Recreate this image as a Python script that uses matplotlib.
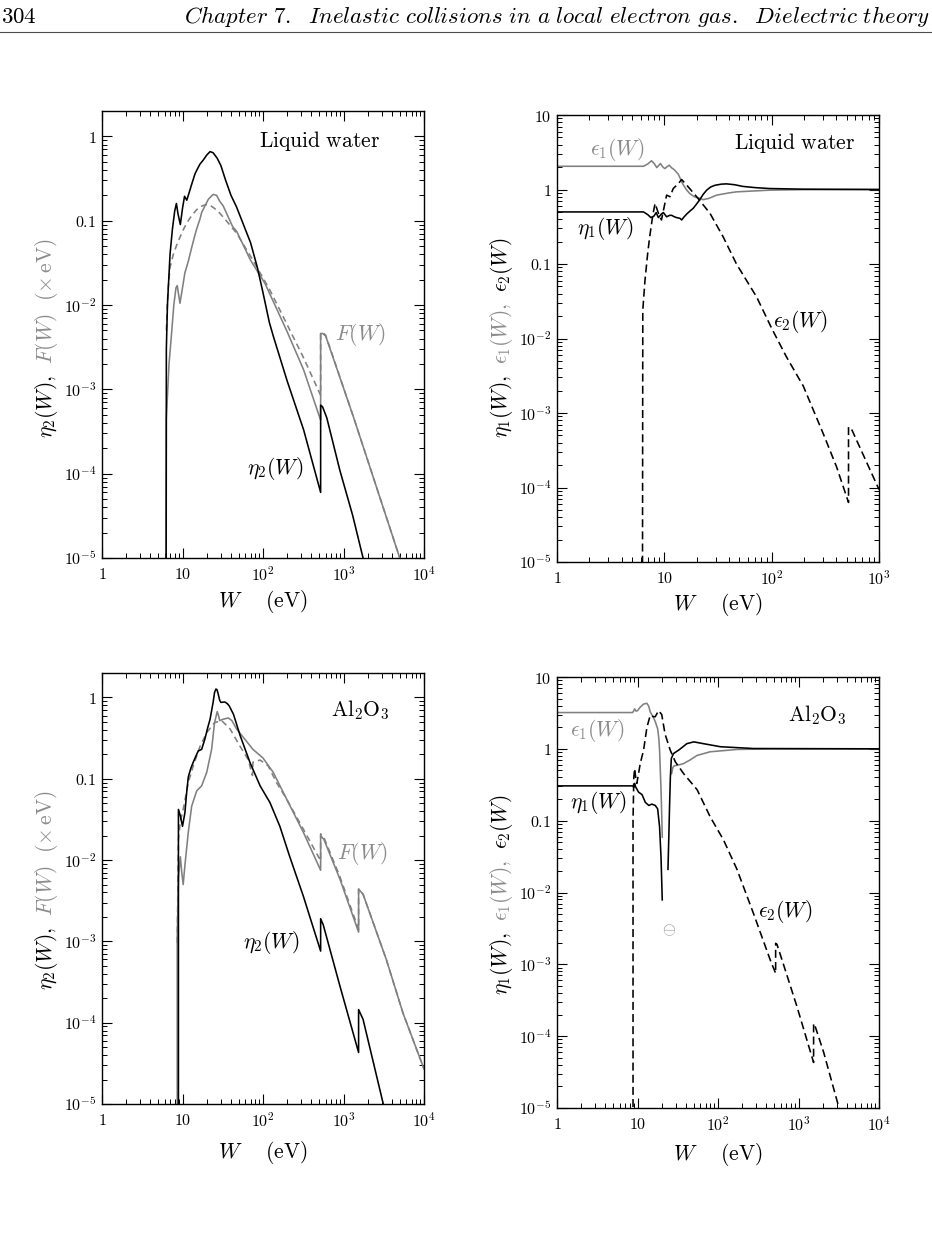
import numpy as np
import matplotlib
matplotlib.use('Agg')
import matplotlib.pyplot as plt
from matplotlib.ticker import FixedLocator, FixedFormatter, LogLocator, NullFormatter
from matplotlib.transforms import IdentityTransform
from matplotlib.lines import Line2D

plt.rcParams['mathtext.fontset'] = 'cm'
plt.rcParams['font.family'] = 'DejaVu Serif'

nan = np.nan

# ---------------- liquid water: eta2 and F (left top) ----------------
w_eta2_water = [6.25, 6.3, 6.5, 7.0, 7.5, 8.0, 8.4, 8.8, 9.4, 10.0, 10.6, 11.3, 12.0, 13.0, 14.3,
                15.5, 16.5, 18.0, 20.0, 22.0, 24.0, 27.0, 30.0, 34.0, 40.0, 47.0, 60.0, 70.0, 85.0,
                100.0, 120.0, 135.0, 200.0, 320.0, 520.0, 520.0, 550.0, 620.0, 900.0, 1300.0, 1750.0,
                2000.0]
eta2_water = [1e-6, 3e-3, 0.01, 0.04, 0.08, 0.13, 0.16, 0.12, 0.09, 0.14, 0.195, 0.175, 0.21, 0.27, 0.36,
              0.42, 0.47, 0.52, 0.6, 0.66, 0.64, 0.55, 0.45, 0.31, 0.2, 0.145, 0.08, 0.055, 0.028,
              0.014, 0.0062, 0.0042, 0.00125, 3.3e-4, 6.0e-5, 6.5e-4, 6.2e-4, 4.6e-4, 1.1e-4, 3.2e-5,
              1e-5, 6e-6]

w_f_water = [6.25, 6.3, 6.8, 7.3, 7.8, 8.3, 8.6, 9.3, 10.0, 10.7, 11.8, 13.0, 14.3, 15.0, 16.5, 17.3,
             19.0, 21.0, 24.0, 26.5, 29.0, 32.0, 42.0, 47.0, 70.0, 106.0, 200.0, 320.0, 520.0, 520.0,
             550.0, 600.0, 1320.0, 5000.0, 6000.0]
f_water = [1e-6, 4.5e-4, 2e-3, 4.5e-3, 0.01, 0.016, 0.017, 0.0105, 0.016, 0.024, 0.033, 0.048, 0.068,
           0.08, 0.105, 0.125, 0.15, 0.18, 0.205, 0.2, 0.17, 0.15, 0.085, 0.075, 0.034, 0.018, 0.0048,
           0.0017, 4.3e-4, 4.6e-3, 4.6e-3, 4.3e-3, 4.8e-4, 1e-5, 6e-6]

w_fd_water = [6.3, 6.6, 7.0, 7.7, 8.5, 10.0, 11.3, 13.0, 15.0, 17.0, 19.5, 22.0, 25.0, 29.0, 35.0, 47.0,
              75.0, 122.0, 197.0, 317.0, 520.0, 520.0, 550.0, 600.0, 1320.0, 5000.0, 6000.0]
fd_water = [0.005, 0.015, 0.028, 0.04, 0.052, 0.075, 0.094, 0.115, 0.135, 0.148, 0.155, 0.152, 0.14,
            0.123, 0.1, 0.071, 0.034, 0.015, 0.006, 0.0024, 8.5e-4, 4.7e-3, 4.7e-3, 4.4e-3, 4.8e-4,
            1e-5, 6e-6]

# ---------------- liquid water: eta1, eps1, eps2 (right top) ----------------
w_eps1_water = [1, 6.4, 7.0, 7.6, 8.1, 8.5, 9.2, 9.7, 10.1, 11.1, 11.7, 12.3, 13.5, 14.8, 16.0, 17.3,
                19.0, 21.5, 23.0, 26.0, 30.7, 40.0, 47.0, 96.0, 200.0, 1000.0]
eps1_water = [2.05, 2.05, 2.2, 2.43, 2.2, 1.97, 2.23, 2.0, 1.91, 2.12, 1.95, 1.86, 1.6, 1.2, 1.0, 0.88,
              0.8, 0.76, 0.73, 0.76, 0.84, 0.9, 0.93, 0.98, 0.995, 1.0]

w_eta1_water = [1, 6.4, 7.0, 7.5, 8.0, 8.4, 8.8, 9.4, 9.8, 10.5, 11.2, 11.7, 12.4, 13.0, 14.0, 14.5,
                15.3, 16.2, 17.5, 18.6, 20.0, 21.5, 23.0, 24.8, 27.0, 29.7, 34.0, 38.0, 45.0, 54.0,
                70.0, 96.0, 200.0, 1000.0]
eta1_water = [0.5, 0.5, 0.46, 0.42, 0.44, 0.49, 0.42, 0.47, 0.49, 0.43, 0.45, 0.45, 0.43, 0.42, 0.41,
              0.39, 0.43, 0.47, 0.52, 0.56, 0.64, 0.74, 0.86, 0.98, 1.08, 1.14, 1.18, 1.19, 1.16, 1.1,
              1.06, 1.03, 1.01, 1.0]

w_eps2_water = [6.25, 6.3, 6.6, 7.0, 7.3, 7.8, 8.2, 8.6, 9.0, 9.4, 10.0, 10.5, 11.3, 12.1, 13.5, 14.5,
                16.2, 20.0, 26.6, 35.4, 47.0, 72.5, 100.0, 137.0, 197.0, 302.0, 402.0, 520.0, 520.0,
                560.0, 1000.0]
eps2_water = [1e-6, 0.024, 0.06, 0.14, 0.23, 0.45, 0.65, 0.53, 0.44, 0.39, 0.6, 0.84, 0.8, 1.03, 1.2,
              1.36, 1.14, 0.8, 0.48, 0.23, 0.1, 0.036, 0.0137, 0.0057, 0.0023, 5.3e-4, 1.9e-4, 6.3e-5,
              6.5e-4, 5.9e-4, 9.4e-5]

# ---------------- Al2O3: eta2 and F (left bottom) ----------------
w_eta2_al = [8.9, 8.9, 9.4, 10.0, 10.7, 11.3, 11.8, 12.7, 13.6, 15.0, 15.7, 17.3, 19.0, 20.5, 22.0, 24.0,
             25.0, 26.0, 26.8, 27.8, 29.0, 30.0, 33.6, 36.0, 38.0, 43.0, 52.0, 69.0, 92.0, 122.0, 162.0,
             215.0, 317.0, 520.0, 520.0, 560.0, 905.0, 1540.0, 1540.0, 1750.0, 3120.0, 3500.0]
eta2_al = [1e-6, 0.042, 0.035, 0.026, 0.038, 0.07, 0.105, 0.135, 0.16, 0.2, 0.22, 0.23, 0.31, 0.42,
           0.54, 0.87, 1.15, 1.27, 1.25, 1.1, 0.92, 0.87, 0.88, 0.84, 0.79, 0.62, 0.34, 0.158, 0.082,
           0.051, 0.026, 0.011, 0.0036, 7.6e-4, 1.9e-3, 1.6e-3, 2.8e-4, 4.3e-5, 1.45e-4, 1.1e-4, 1e-5,
           6e-6]

w_f_al = [8.6, 8.6, 8.9, 9.4, 9.8, 10.2, 10.7, 11.8, 13.0, 15.0, 17.3, 20.0, 23.0, 25.0, 27.0, 28.0,
          29.0, 32.0, 37.0, 41.0, 47.0, 75.0, 100.0, 134.0, 197.0, 317.0, 520.0, 520.0, 570.0, 905.0,
          1540.0, 1540.0, 1750.0, 3400.0, 5500.0, 10000.0]
f_al = [1e-6, 0.0011, 0.006, 0.011, 0.007, 0.005, 0.0085, 0.022, 0.046, 0.071, 0.082, 0.12, 0.23, 0.49,
        0.67, 0.6, 0.52, 0.54, 0.56, 0.52, 0.41, 0.23, 0.18, 0.12, 0.056, 0.022, 0.0075, 0.02, 0.018,
        0.0058, 0.0013, 0.0044, 0.0038, 6e-4, 1.3e-4, 2.7e-5]

w_fd_al = [8.6, 8.9, 9.4, 10.2, 11.8, 13.6, 16.5, 20.0, 25.0, 30.6, 39.0, 52.0, 66.0, 72.0, 74.0, 75.0,
           92.0, 116.0, 147.0, 197.0, 317.0, 520.0, 520.0, 570.0, 905.0, 1540.0, 1540.0, 1750.0,
           3400.0, 5500.0, 10000.0]
fd_al = [9.6e-4, 0.018, 0.03, 0.042, 0.09, 0.144, 0.25, 0.37, 0.49, 0.52, 0.41, 0.25, 0.17, 0.12, 0.11,
         0.16, 0.17, 0.144, 0.09, 0.056, 0.024, 0.0098, 0.021, 0.019, 0.0062, 0.0014, 0.0044, 0.0038,
         6e-4, 1.3e-4, 2.7e-5]

# ---------------- Al2O3: eta1, eps1, eps2 (right bottom) ----------------
w_eps1_al = [1, 8.7, 9.0, 9.2, 9.6, 10.0, 10.8, 11.9, 13.1, 13.8, 14.4, 15.6, 16.6, 17.8, 18.4, 18.8,
             19.2, 19.6, 20.0, 20.3, nan, 26.5, 27.5, 28.5, 31.0, 37.0, 45.0, 55.0, 80.0, 172.0, 400.0,
             10000.0]
eps1_al = [3.2, 3.2, 3.4, 3.6, 3.35, 3.4, 3.8, 4.2, 4.3, 3.9, 3.26, 2.8, 2.4, 1.9, 1.4, 0.96, 0.5, 0.27,
           0.12, 0.059, nan, 0.45, 0.55, 0.58, 0.59, 0.62, 0.7, 0.81, 0.91, 0.98, 0.995, 1.0]

w_eta1_al = [1, 8.7, 9.0, 9.2, 9.4, 10.3, 11.4, 12.5, 13.8, 15.1, 16.6, 17.8, 18.8, 19.6, 20.3, nan,
             23.9, 24.5, 25.0, 25.6, 26.3, 28.0, 32.5, 36.0, 41.0, 50.0, 66.0, 107.0, 276.0, 10000.0]
eta1_al = [0.305, 0.305, 0.29, 0.33, 0.3, 0.25, 0.23, 0.18, 0.163, 0.17, 0.163, 0.146, 0.082, 0.031,
           0.0079, nan, 0.021, 0.06, 0.155, 0.4, 0.73, 0.86, 0.96, 1.05, 1.18, 1.25, 1.18, 1.07, 1.01,
           1.0]

w_eps2_al = [8.8, 8.8, 9.0, 9.2, 9.5, 9.8, 10.3, 10.8, 11.9, 13.1, 14.4, 15.8, 16.6, 18.3, 20.0, 22.0,
             25.5, 29.5, 37.5, 55.0, 80.0, 117.0, 172.0, 276.0, 447.0, 520.0, 520.0, 540.0, 650.0, 955.0,
             1540.0, 1540.0, 1600.0, 2050.0, 3150.0, 3500.0]
eps2_al = [1e-6, 0.1, 0.4, 0.53, 0.4, 0.33, 0.45, 0.62, 0.96, 2.0, 2.93, 2.8, 2.8, 3.4, 3.0, 1.6, 0.96,
           0.66, 0.45, 0.27, 0.113, 0.054, 0.021, 0.0051, 0.00114, 7.5e-4, 0.00196, 0.0019, 1.0e-3,
           2.6e-4, 4.3e-5, 1.5e-4, 1.4e-4, 6e-5, 1.05e-5, 6e-6]

XLABELS = {0: '$1$', 1: '$10$', 2: '$10^2$', 3: '$10^3$', 4: '$10^4$'}
YLABELS = {-5: '$10^{-5}$', -4: '$10^{-4}$', -3: '$10^{-3}$', -2: '$10^{-2}$', -1: '$0.1$', 0: '$1$', 1: '$10$'}

W_PX, H_PX = 932, 1233
GRAY = '0.5'
GRAY_TXT = '0.55'
LW = 1.15
FS = 15.5

fig = plt.figure(figsize=(W_PX / 100, H_PX / 100), dpi=100)


def box(left, top, right, bottom):
    return [left / W_PX, 1 - bottom / H_PX, (right - left) / W_PX, (bottom - top) / H_PX]


def style_axes(ax, xmax_dec, ymin_dec, ymax_dec, ytop):
    ax.set_xscale('log')
    ax.set_yscale('log')
    ax.set_xlim(1, 10.0 ** xmax_dec)
    ax.set_ylim(10.0 ** ymin_dec, ytop)
    xd = list(range(0, xmax_dec + 1))
    yd = list(range(ymin_dec, ymax_dec + 1))
    ax.xaxis.set_major_locator(FixedLocator([10.0 ** k for k in xd]))
    ax.xaxis.set_major_formatter(FixedFormatter([XLABELS[k] for k in xd]))
    ax.yaxis.set_major_locator(FixedLocator([10.0 ** k for k in yd]))
    ax.yaxis.set_major_formatter(FixedFormatter([YLABELS[k] for k in yd]))
    ax.xaxis.set_minor_locator(LogLocator(base=10, subs=np.arange(2, 10), numticks=20))
    ax.yaxis.set_minor_locator(LogLocator(base=10, subs=np.arange(2, 10), numticks=20))
    ax.xaxis.set_minor_formatter(NullFormatter())
    ax.yaxis.set_minor_formatter(NullFormatter())
    ax.tick_params(which='both', direction='in', top=True, right=True, labelsize=11.5)
    ax.tick_params(axis='x', which='both', pad=6)
    ax.tick_params(axis='y', which='both', pad=4)
    ax.tick_params(which='major', length=7, width=0.8)
    ax.tick_params(which='minor', length=3.5, width=0.7)
    for s in ax.spines.values():
        s.set_linewidth(1.0)


# axes boxes in pixels of the 932x1233 page
ax1 = fig.add_axes(box(102, 111, 424, 558))
ax2 = fig.add_axes(box(557, 115, 879, 562))
ax3 = fig.add_axes(box(102, 673, 424, 1104))
ax4 = fig.add_axes(box(557, 677, 879, 1108))

style_axes(ax1, 4, -5, 0, 2.0)
style_axes(ax2, 3, -5, 1, 10.0)
style_axes(ax3, 4, -5, 0, 2.0)
style_axes(ax4, 4, -5, 1, 10.0)

# water, eta2 / F
ax1.plot(w_fd_water, fd_water, color=GRAY, lw=LW, dashes=(3.8, 2.6))
ax1.plot(w_f_water, f_water, color=GRAY, lw=LW)
ax1.plot(w_eta2_water, eta2_water, color='k', lw=LW)
ax1.text(0.863, 0.933, r'$\mathrm{Liquid\ water}$', transform=ax1.transAxes, fontsize=FS, ha='right', va='center')
ax1.text(0.724, 0.499, r'$F(W)$', transform=ax1.transAxes, fontsize=FS, color=GRAY_TXT, ha='left', va='center')
ax1.text(0.450, 0.201, r'$\eta_2(W)$', transform=ax1.transAxes, fontsize=FS, ha='left', va='center')

# water, eta1 / eps1 / eps2
ax2.plot(w_eps1_water, eps1_water, color=GRAY, lw=LW)
ax2.plot(w_eta1_water, eta1_water, color='k', lw=LW)
ax2.plot(w_eps2_water, eps2_water, color='k', lw=LW, dashes=(5, 2.6))
ax2.text(0.925, 0.937, r'$\mathrm{Liquid\ water}$', transform=ax2.transAxes, fontsize=FS, ha='right', va='center')
ax2.text(0.102, 0.922, r'$\epsilon_1(W)$', transform=ax2.transAxes, fontsize=FS, color=GRAY_TXT, ha='left', va='center')
ax2.text(0.062, 0.745, r'$\eta_1(W)$', transform=ax2.transAxes, fontsize=FS, ha='left', va='center')
ax2.text(0.671, 0.537, r'$\epsilon_2(W)$', transform=ax2.transAxes, fontsize=FS, ha='left', va='center')

# Al2O3, eta2 / F
ax3.plot(w_fd_al, fd_al, color=GRAY, lw=LW, dashes=(3.8, 2.6))
ax3.plot(w_f_al, f_al, color=GRAY, lw=LW)
ax3.plot(w_eta2_al, eta2_al, color='k', lw=LW)
ax3.text(0.894, 0.914, r'$\mathrm{Al}_2\mathrm{O}_3$', transform=ax3.transAxes, fontsize=FS, ha='right', va='center')
ax3.text(0.730, 0.582, r'$F(W)$', transform=ax3.transAxes, fontsize=FS, color=GRAY_TXT, ha='left', va='center')
ax3.text(0.438, 0.374, r'$\eta_2(W)$', transform=ax3.transAxes, fontsize=FS, ha='left', va='center')

# Al2O3, eta1 / eps1 / eps2
ax4.plot(w_eps1_al, eps1_al, color=GRAY, lw=LW)
ax4.plot(w_eta1_al, eta1_al, color='k', lw=LW)
ax4.plot(w_eps2_al, eps2_al, color='k', lw=LW, dashes=(5, 2.6))
ax4.text(0.900, 0.912, r'$\mathrm{Al}_2\mathrm{O}_3$', transform=ax4.transAxes, fontsize=FS, ha='right', va='center')
ax4.text(0.040, 0.877, r'$\epsilon_1(W)$', transform=ax4.transAxes, fontsize=FS, color=GRAY_TXT, ha='left', va='center')
ax4.text(0.040, 0.708, r'$\eta_1(W)$', transform=ax4.transAxes, fontsize=FS, ha='left', va='center')
ax4.text(0.624, 0.455, r'$\epsilon_2(W)$', transform=ax4.transAxes, fontsize=FS, ha='left', va='center')
ax4.text(0.348, 0.413, r'$\ominus$', transform=ax4.transAxes, fontsize=12, color=GRAY_TXT, ha='center', va='center')

# x labels
for ax, ypx in [(ax1, 602), (ax2, 604), (ax3, 1152), (ax4, 1154)]:
    b = ax.get_position()
    fig.text(b.x0 + b.width / 2, 1 - ypx / H_PX, r'$W\quad\;\,(\mathrm{eV})$', fontsize=FS, ha='center', va='center')

# y labels with grey and black pieces, stacked along the rotated baseline
renderer = fig.canvas.get_renderer()


def multi_ylabel(x_px, yc_px, parts, gap=11):
    texts = []
    for s, c in parts:
        t = fig.text(0, 0, s, color=c, fontsize=FS, rotation=90, rotation_mode='anchor',
                     ha='left', va='baseline', transform=IdentityTransform())
        texts.append(t)
    lengths = [t.get_window_extent(renderer).height for t in texts]
    total = sum(lengths) + gap * (len(texts) - 1)
    y = (H_PX - yc_px) - total / 2
    for t, L in zip(texts, lengths):
        t.set_position((x_px, y))
        y += L + gap


left_parts = [(r'$\eta_2(W),$', 'k'), (r'$F(W)\ \ (\times\,\mathrm{eV})$', GRAY_TXT)]
right_parts = [(r'$\eta_1(W),$', 'k'), (r'$\epsilon_1(W),$', GRAY_TXT), (r'$\epsilon_2(W)$', 'k')]
multi_ylabel(52, 338, left_parts)
multi_ylabel(507, 338, right_parts)
multi_ylabel(52, 890, left_parts)
multi_ylabel(507, 895, right_parts)

# running head of the page
fig.text(1 / W_PX, 1 - 23 / H_PX, r'$304$', fontsize=16.5, ha='left', va='baseline')
fig.text(930 / W_PX, 1 - 23 / H_PX,
         r'$\mathit{Chapter}\ 7.\ \ \mathit{Inelastic\ collisions\ in\ a\ local\ electron\ gas.\ \ Dielectric\ theory}$',
         fontsize=16.5, ha='right', va='baseline')
fig.add_artist(Line2D([0, 1], [1 - 32 / H_PX, 1 - 32 / H_PX], transform=fig.transFigure, color='0.3', lw=0.8))

fig.savefig('out.png', dpi=100)
